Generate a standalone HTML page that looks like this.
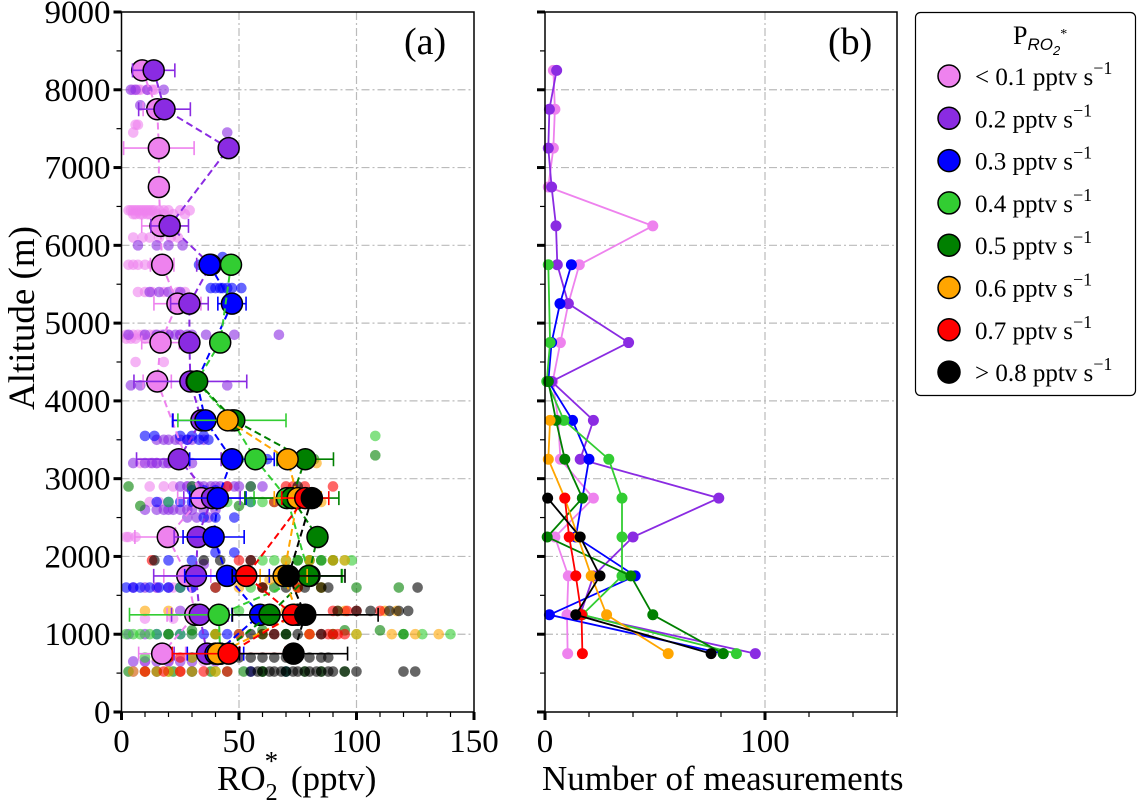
<!DOCTYPE html>
<html><head><meta charset="utf-8"><style>
body{margin:0;background:#fff;}
svg, svg text{font-family:"Liberation Serif","DejaVu Serif",serif;}
</style></head><body>
<svg id="chart" width="1139" height="806" viewBox="0 0 1139 806" xmlns="http://www.w3.org/2000/svg" font-family="Liberation Serif, serif">
<g id="grid"></g>
<g id="scatter"></g>
<g id="series"></g>
<g id="countseries"></g>
<g id="axes"></g>
<text x="404" y="54" font-size="38" font-family="Liberation Serif, serif">(a)</text>
<text x="828" y="54" font-size="38" font-family="Liberation Serif, serif">(b)</text>
<text transform="translate(34,318) rotate(-90)" text-anchor="middle" font-size="37" font-family="Liberation Serif, serif">Altitude (m)</text>
<text x="217" y="790" font-size="35" font-family="Liberation Serif, serif">RO<tspan font-size="24" dy="10">2</tspan><tspan font-size="27" dy="-30" dx="-13">*</tspan><tspan dy="20" dx="4"> (pptv)</tspan></text>
<text x="542" y="790" font-size="35" font-family="Liberation Serif, serif">Number of measurements</text>
<g id="legend" font-family="Liberation Serif, serif">
<rect x="915.5" y="12.5" width="220" height="383" rx="5" fill="#fff" stroke="#000" stroke-width="1.2"/>
<text x="1013" y="44" font-size="26">P<tspan font-family="Liberation Sans,sans-serif" font-style="italic" font-size="17" dy="6">RO</tspan><tspan font-family="Liberation Sans,sans-serif" font-style="italic" font-size="13" dy="5">2</tspan><tspan font-size="14" dy="-17">*</tspan></text>
</g>
</svg>
<script>
const levels=[8250,7750,7250,6750,6250,5750,5250,4750,4250,3750,3250,2750,2250,1750,1250,750];
const groupNames=["< 0.1 pptv s","0.2 pptv s","0.3 pptv s","0.4 pptv s","0.5 pptv s","0.6 pptv s","0.7 pptv s","> 0.8 pptv s"];
const colors=["#ee82ee","#8a2be2","#0000ff","#32cd32","#008000","#ffa500","#ff0000","#000000"];
const N=null;
const meanPink=[8.8,15.2,15.9,15.9,16.6,17.3,23.8,16.6,15.2,N,N,33.9,19.7,28,31.4,17.3];
const meanPurple=[13.7,18.3,45.6,N,20.5,38,28.9,28.9,29.3,34,24.4,38.5,32.4,31.7,33.3,36.4];
const meanBlue=[N,N,N,N,N,37.5,47,N,32,35.7,47,41,39.2,44.9,59,40];
const meanLGreen=[N,N,N,N,N,46.6,N,42,32,47,57,70.4,N,80,41.4,42];
const meanDGreen=[N,N,N,N,N,N,N,N,32.2,48,78.2,72.5,83.4,79.6,63,42];
const meanOrange=[N,N,N,N,N,N,N,N,N,45.2,70.7,75,N,69,75,41];
const meanRed=[N,N,N,N,N,N,N,N,N,N,N,78.2,N,53.1,73,45.6];
const meanBlack=[N,N,N,N,N,N,N,N,N,N,N,81,N,71.1,78.2,73.2];
const errPink=[4,6,15,N,8,5,10,8,6,N,N,10,14,10,12,10];
const errPurple=[9,11,N,N,8,6,8,N,24,12,18,12,10,18,12,14];
const errBlue=[N,N,N,N,N,N,6,N,N,14,18,12,13,18,12,12];
const errLGreen=[N,N,N,N,N,N,N,N,N,23,N,14,N,14,38,N];
const errDGreen=[N,N,N,N,N,N,N,N,N,N,12,20,N,14,N,N];
const errOrange=[N,N,N,N,N,N,N,N,N,N,N,10,N,10,N,N];
const errRed=[N,N,N,N,N,N,N,N,N,N,N,10,N,N,N,24];
const errBlack=[N,N,N,N,N,N,N,N,N,N,N,N,N,24,31,23];
const cntPink=[3.8,4.5,3.8,1.5,49,15.6,10.6,7,3.5,6,7,22,4.5,10.6,10,10.3];
const cntPurple=[5.3,2,1.5,3,5,5.6,10.6,38,3,22,16,79,40,22,16,95.6];
const cntBlue=[N,N,N,N,N,12,6.8,3,1.5,12.5,20,17,14,41,2,81];
const cntLGreen=[N,N,N,N,N,1.5,N,2.3,0.8,8.6,29,35,35,35,17,87];
const cntDGreen=[N,N,N,N,N,N,N,N,1.5,5,9,17,1,39,49,81];
const cntOrange=[N,N,N,N,N,N,N,N,N,2.3,1.5,9,15,21,28,56];
const cntRed=[N,N,N,N,N,N,N,N,N,N,N,9,11,14,16.6,17];
const cntBlack=[N,N,N,N,N,N,N,N,N,N,N,1.2,16,25,14,75.5];
// scatter rows: [altitude, x1, x2, ...]
const scPink=[[8000,5,7,8,11,13,14],[7550,7,6],[7450,5],[6450,3,4,5,6,7,8,9,10,11,12,13,14,16,18,20,25,29],[6400,5,6,8,9,11,12,15,18,22,27],[6100,5,9,12,16,21,24],[5750,3,5,7,10,13,17],[5400,7,10,13,18,24,27],[4850,2,5,7,9,12,14,17,20,25],[4800,2,4,6,10],[4500,6,18],[3200,8,12,15,20],[2900,12,18,22,28],[2700,12,16],[2250,2,3,6],[1600,15,22],[1200,10,22,30],[650,10,20,35]];
const scPurple=[[8000,4,6,11,18],[7800,8,13],[7450,45],[6000,7,15,20,26],[5400,12,16,20,25],[4850,3,10,15,18,20,23,25,28,30,36,48,67],[4200,4,8,45],[3500,15,18,20,23,25,28,30,35],[3200,5,10,13,15,18,20,22,25,30],[2900,25,28,30,33,35,38,40,42,45,48,50,55,60],[2600,10,15,18,20,22,25,28,30,35,40],[2500,28,32,37],[1900,35],[1600,5,10,15,20,25,30],[1300,25,30,40],[1000,3,10,20,30],[650,5,10,15,20,25,30,40],[520,5,15,25]];
const scBlue=[[5850,43],[5750,33,37],[5450,38,40,42,43,45,47,51],[3550,10,14,25,30,35],[3500,28,33,37],[3250,50,62,75],[2850,30,35,40],[2700,15,20,25,30,38,55],[2500,35,40,48],[2050,40,48],[1950,20,30],[1600,2,5,8,12,16,20,25,30,40],[1000,15,25,35,45],[700,20,30,40],[520,30,55,70]];
const scLGreen=[[3550,108],[3250,50,60,68,72],[2700,20,45,55,60,65,70,75,80],[1950,60,65,70,75,80,85,90,95,98],[1600,25,40,55],[1300,30,40,50],[1000,2,5,8,12,15,20,25,30,40,50,60,70,80,90,100,120,128,140],[700,10,20,30],[520,20,40,60]];
const scDGreen=[[3300,108],[3250,78,82],[2900,3,30,55],[2650,8,50],[1950,75,80,85,90],[1600,65,75,85,100,118],[1050,30,60,95,110],[1000,20,40,70,90,120],[520,3,10,15,22,30,38,45,52,60,70,78,85,95]];
const scOrange=[[3200,83],[2700,70,80,85],[1950,70,80,90,95],[1600,50,60,75,85],[1700,55,63],[1300,10,20,60,70,80,92,95,112,117],[1000,40,60,80,100,115,125,135],[700,15,20,30],[520,5,10,15,20,25,30,40]];
const scRed=[[2900,45,70,73,78,90],[2700,65],[1950,13,50,55],[1600,40,60,75],[1300,90,96,100,110],[1000,50,65,80,85,88,90,92,95],[700,20,25,45],[520,10,18,25,35,45]];
const scBlack=[[2900,75],[1950,14,35,42,55],[1600,60,70,78,85,88,126],[1300,80,92,100,106,114,118,122],[1000,55,60,65,70,75,85],[700,40,45,50,55,60,65,70,75,80,85,88],[520,55,58,60,63,65,68,70,73,75,78,80,83,85,88,90,95,100,120,125]];
const yTicks=[0,1000,2000,3000,4000,5000,6000,7000,8000,9000];
const xTicksA=[0,50,100,150];
const xTicksB=[0,100];

const means=[meanPink,meanPurple,meanBlue,meanLGreen,meanDGreen,meanOrange,meanRed,meanBlack];
const errs=[errPink,errPurple,errBlue,errLGreen,errDGreen,errOrange,errRed,errBlack];
const cnts=[cntPink,cntPurple,cntBlue,cntLGreen,cntDGreen,cntOrange,cntRed,cntBlack];
const scs=[scPink,scPurple,scBlue,scLGreen,scDGreen,scOrange,scRed,scBlack];
const NS="http://www.w3.org/2000/svg";
const FF="Liberation Serif, serif";
const AX0=121.5,AX1=474,BX0=545,BX1=897,YT=12,YB=712;
const xa=v=>AX0+v*(AX1-AX0)/150;
const xb=v=>BX0+v*(BX1-BX0)/160;
const ya=a=>YB-a*(YB-YT)/9000;
function mk(tag,attrs,parent){const e=document.createElementNS(NS,tag);for(const k in attrs)e.setAttribute(k,attrs[k]);parent.appendChild(e);return e;}
const grid=document.getElementById('grid'),scG=document.getElementById('scatter'),serG=document.getElementById('series'),cG=document.getElementById('countseries'),axG=document.getElementById('axes');
yTicks.slice(1,-1).forEach(t=>{
 [[AX0,AX1],[BX0,BX1]].forEach(p=>{const l=mk('line',{x1:p[0],x2:p[1],y1:ya(t),y2:ya(t),stroke:'#bbb','stroke-width':1.2,'stroke-dasharray':'8,3,2,3'},grid);
 
 });
});
[50,100].forEach(t=>{const l=mk('line',{x1:xa(t),x2:xa(t),y1:YT,y2:YB,stroke:'#bbb','stroke-width':1.2,'stroke-dasharray':'8,3,2,3'},grid);
 
 });
{const l=mk('line',{x1:xb(100),x2:xb(100),y1:YT,y2:YB,stroke:'#bbb','stroke-width':1.2,'stroke-dasharray':'8,3,2,3'},grid);
 
 }
scs.forEach((rows,g)=>{rows.forEach(r=>{for(let i=1;i<r.length;i++){
 const c=mk('circle',{cx:xa(r[i]),cy:ya(r[0]),r:5.3,fill:colors[g],'fill-opacity':0.6},scG);
 
 }});});
means.forEach((m,g)=>{
 let pts=[];m.forEach((v,i)=>{if(v!==null)pts.push([xa(v),ya(levels[i])]);});
 const pl=mk('polyline',{points:pts.map(p=>p.join(',')).join(' '),fill:'none',stroke:colors[g],'stroke-width':2,'stroke-dasharray':'7,4'},serG);
 
 
 m.forEach((v,i)=>{const e=errs[g][i];if(v!==null&&e!==null){const y=ya(levels[i]);
  const el=mk('path',{d:`M${xa(Math.max(0,v-e))},${y}H${xa(v+e)}M${xa(Math.max(0,v-e))},${y-7}v14M${xa(v+e)},${y-7}v14`,stroke:colors[g],'stroke-width':1.6,fill:'none'},serG);
  
  }});
 m.forEach((v,i)=>{if(v!==null){const c=mk('circle',{cx:xa(v),cy:ya(levels[i]),r:10.5,fill:colors[g],stroke:'#000','stroke-width':1.5},serG);
  
  }});
});
cnts.forEach((m,g)=>{
 let pts=[];m.forEach((v,i)=>{if(v!==null)pts.push([xb(v),ya(levels[i])]);});
 const pl=mk('polyline',{points:pts.map(p=>p.join(',')).join(' '),fill:'none',stroke:colors[g],'stroke-width':1.8},cG);
 
 
 pts.forEach(p=>{const c=mk('circle',{cx:p[0],cy:p[1],r:5.5,fill:colors[g]},cG);
  
  });
});
[[AX0,AX1],[BX0,BX1]].forEach((p,k)=>{
 const r=mk('rect',{x:p[0],y:YT,width:p[1]-p[0],height:YB-YT,fill:'none',stroke:'#000','stroke-width':1.5},axG);
 
 
 for(let a=0;a<=9000;a+=500){const maj=a%1000===0;
  const t=mk('line',{x1:p[0]-(maj?8:5),x2:p[0],y1:ya(a),y2:ya(a),stroke:'#000','stroke-width':maj?3:1.2},axG);
  
  }
});
yTicks.forEach(t=>{const tx=mk('text',{x:AX0-11,y:ya(t)+11,'text-anchor':'end','font-size':33,'font-family':FF},axG);tx.textContent=t;
 
 });
for(let v=0;v<=150;v+=10){const maj=v%50===0;const t=mk('line',{x1:xa(v),x2:xa(v),y1:YB,y2:YB+(maj?8:5),stroke:'#000','stroke-width':maj?3:1.2},axG);
 
 }
for(let v=0;v<=160;v+=20){const maj=v%100===0;const t=mk('line',{x1:xb(v),x2:xb(v),y1:YB,y2:YB+(maj?8:5),stroke:'#000','stroke-width':maj?3:1.2},axG);
 
 }
xTicksA.forEach(v=>{const tx=mk('text',{x:xa(v),y:YB+40,'text-anchor':'middle','font-size':33,'font-family':FF},axG);tx.textContent=v;
 
 });
xTicksB.forEach(v=>{const tx=mk('text',{x:xb(v),y:YB+40,'text-anchor':'middle','font-size':33,'font-family':FF},axG);tx.textContent=v;
 
 });
const lg=document.getElementById('legend');
groupNames.forEach((n,i)=>{const y=76+i*42.3;
 const c=mk('circle',{cx:949,cy:y,r:11,fill:colors[i],stroke:'#000','stroke-width':1.5},lg);
 
 
 const t=mk('text',{x:975,y:y+9,'font-size':25,'font-family':FF},lg);
 
 
 t.textContent=n;
 const s=mk('tspan',{dy:-11,'font-size':18},t);s.textContent='\u22121';
});
</script>
</body></html>
